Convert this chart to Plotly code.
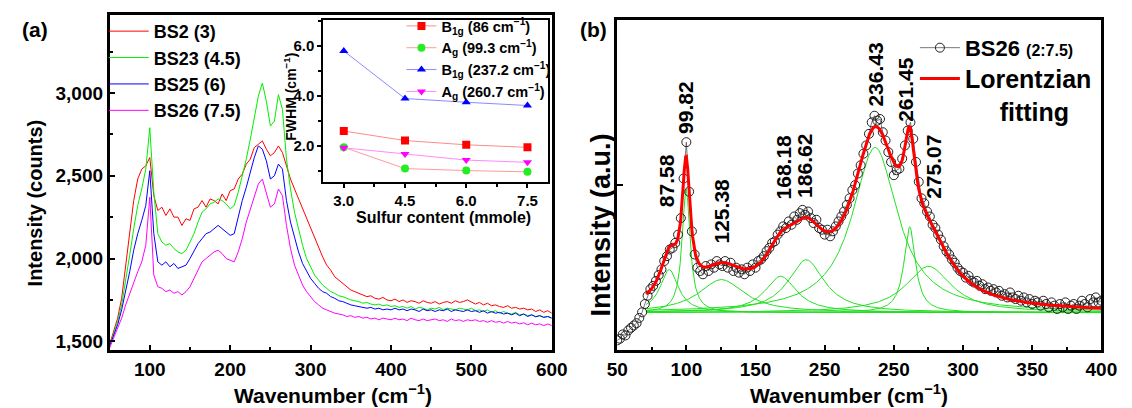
import numpy as np
import plotly.graph_objects as go

W, H = 1132, 408

# ---------------- panel (a): Raman spectra ----------------
wn_a = list(range(50, 605, 5))
bs2 = [1480, 1560, 1640, 1760, 1950, 2150, 2350, 2480, 2540, 2560,
       2610, 2380, 2290, 2310, 2260, 2300, 2250, 2250, 2200, 2240,
       2230, 2300, 2310, 2350, 2310, 2360, 2350, 2330, 2390, 2350,
       2410, 2420, 2480, 2510, 2570, 2600, 2670, 2690, 2710, 2660,
       2620, 2640, 2680, 2640, 2560, 2480, 2420, 2360, 2300, 2240,
       2190, 2120, 2060, 2010, 1960, 1930, 1890, 1870, 1850, 1830,
       1810, 1800, 1790, 1780, 1770, 1775, 1760, 1755, 1765, 1750,
       1745, 1755, 1740, 1750, 1735, 1745, 1740, 1730, 1745, 1735,
       1730, 1740, 1725, 1735, 1740, 1730, 1745, 1735, 1740, 1750,
       1735, 1725, 1735, 1720, 1730, 1715, 1720, 1710, 1705, 1715,
       1700, 1705, 1695, 1700, 1690, 1695, 1680, 1690, 1675, 1685, 1670]
bs23 = [1470, 1540, 1620, 1720, 1860, 2020, 2180, 2320, 2420, 2540,
        2790, 2400, 2150, 2100, 2080, 2090, 2060, 2040, 2030, 2050,
        2100, 2150, 2220, 2280, 2300, 2330, 2340, 2360, 2350, 2330,
        2300, 2320, 2400, 2500, 2600, 2720, 2850, 2980, 3060, 2950,
        2800, 2830, 2990, 2900, 2600, 2420, 2280, 2170, 2080, 2000,
        1950, 1900, 1870, 1840, 1820, 1800, 1790, 1775, 1770, 1760,
        1750, 1745, 1740, 1730, 1735, 1725, 1720, 1725, 1715, 1720,
        1710, 1715, 1705, 1710, 1700, 1710, 1695, 1705, 1700, 1690,
        1700, 1695, 1705, 1690, 1700, 1695, 1690, 1700, 1695, 1690,
        1700, 1685, 1690, 1680, 1690, 1675, 1685, 1670, 1680, 1670,
        1665, 1675, 1660, 1665, 1655, 1660, 1650, 1655, 1645, 1650, 1640]
bs25 = [1470, 1540, 1600, 1690, 1800, 1920, 2050, 2150, 2230, 2320,
        2530, 2150, 1980, 1960, 1980, 1950, 1970, 1940, 1950, 1960,
        2000, 2050, 2090, 2120, 2150, 2160, 2180, 2200, 2180, 2160,
        2140, 2150, 2250, 2350, 2430, 2520, 2610, 2680, 2660, 2590,
        2480, 2500, 2570, 2540, 2350, 2220, 2130, 2040, 1970, 1920,
        1880, 1850, 1820, 1800, 1790, 1770, 1760, 1745, 1740, 1730,
        1720, 1715, 1710, 1705, 1700, 1705, 1695, 1700, 1690, 1695,
        1690, 1700, 1690, 1695, 1685, 1695, 1690, 1680, 1695, 1685,
        1690, 1680, 1690, 1685, 1695, 1680, 1690, 1685, 1680, 1690,
        1680, 1685, 1675, 1685, 1670, 1680, 1670, 1675, 1665, 1670,
        1660, 1670, 1655, 1665, 1650, 1660, 1648, 1655, 1645, 1650, 1640]
bs26 = [1460, 1520, 1570, 1640, 1720, 1790, 1860, 1920, 1980, 2080,
        2370, 1900, 1830, 1820, 1800, 1810, 1790, 1800, 1780, 1800,
        1830, 1880, 1930, 1980, 2000, 2020, 2040, 2050, 2030, 2000,
        1990, 1980, 2040, 2120, 2220, 2300, 2380, 2450, 2480, 2400,
        2310, 2330, 2420, 2380, 2200, 2060, 1960, 1900, 1840, 1800,
        1770, 1740, 1720, 1700, 1690, 1680, 1670, 1665, 1660, 1650,
        1655, 1645, 1650, 1640, 1645, 1635, 1640, 1630, 1640, 1635,
        1630, 1640, 1630, 1635, 1625, 1640, 1630, 1625, 1635, 1625,
        1630, 1635, 1625, 1630, 1620, 1635, 1625, 1630, 1620, 1630,
        1625, 1630, 1620, 1625, 1615, 1625, 1615, 1620, 1610, 1620,
        1610, 1615, 1605, 1612, 1600, 1610, 1600, 1605, 1595, 1605, 1595]
spectra_names = ["BS2 (3)", "BS23 (4.5)", "BS25 (6)", "BS26 (7.5)"]

# ---------------- inset: FWHM vs sulfur content ----------------
sulfur = [3.0, 4.5, 6.0, 7.5]
fwhm_b1g_86 = [2.60, 2.22, 2.05, 1.95]
fwhm_ag_99 = [1.95, 1.10, 1.02, 0.97]
fwhm_b1g_237 = [5.80, 3.90, 3.75, 3.62]
fwhm_ag_261 = [1.93, 1.68, 1.44, 1.35]
fwhm_names = ["B<sub>1g</sub> (86 cm<sup>−1</sup>)", "A<sub>g</sub> (99.3 cm<sup>−1</sup>)",
              "B<sub>1g</sub> (237.2 cm<sup>−1</sup>)", "A<sub>g</sub> (260.7 cm<sup>−1</sup>)"]

# ---------------- panel (b): BS26 with Lorentzian fit ----------------
wn_b = list(range(50, 402, 2))
bs26_b = [3.0, 3.5, 4.8, 4.5, 6.0, 6.8, 7.5, 8.2, 9.8, 11.5,
          14.0, 16.5, 18.5, 19.5, 21.0, 22.8, 24.5, 27.0, 28.5, 30.5,
          31.0, 32.5, 35.0, 40.0, 52.0, 63.0, 48.0, 36.0, 29.0, 25.0,
          24.0, 23.0, 25.5, 24.0, 26.0, 25.0, 27.0, 26.0, 25.5, 27.0,
          25.0, 26.5, 24.0, 25.0, 23.5, 24.5, 23.0, 25.0, 24.0, 26.0,
          25.0, 27.0, 27.5, 28.5, 30.0, 31.0, 32.5, 33.0, 35.0, 36.0,
          37.5, 37.0, 39.0, 38.0, 40.5, 39.5, 41.5, 42.5, 41.0, 42.0,
          40.0, 38.5, 39.5, 37.0, 36.5, 35.0, 36.5, 34.5, 36.0, 37.5,
          39.0, 40.5, 42.0, 44.0, 46.0, 48.5, 50.0, 53.5, 56.0, 59.5,
          62.0, 65.5, 69.0, 71.0, 69.5, 70.0, 66.0, 63.5, 60.0, 57.0,
          53.0, 54.5, 55.0, 58.0, 62.0, 66.5, 69.0, 64.0, 57.0, 51.0,
          46.0, 44.5, 42.0, 40.5, 38.0, 37.0, 35.0, 33.5, 31.5, 30.0,
          29.0, 27.5, 26.5, 25.0, 24.0, 23.5, 22.0, 22.5, 21.0, 20.5,
          21.0, 19.5, 20.0, 18.5, 19.0, 18.0, 18.5, 17.5, 18.0, 16.5,
          17.0, 16.0, 17.5, 16.0, 15.5, 16.5, 15.0, 16.0, 14.5, 15.5,
          14.0, 15.0, 14.5, 13.5, 15.0, 14.0, 13.0, 14.5, 13.5, 12.5,
          14.0, 13.0, 14.5, 12.5, 13.5, 14.0, 12.5, 13.5, 15.0, 14.0,
          13.0, 15.5, 14.5, 16.0, 14.5, 15.0]
peak_centers = [87.58, 99.82, 125.38, 168.18, 186.62, 236.43, 261.45, 275.07]
peak_heights = [13.0, 37.5, 10.0, 11.0, 16.0, 50.0, 26.0, 14.0]
peak_hwhm = [8.0, 3.5, 20.0, 14.0, 16.0, 20.0, 5.0, 20.0]
baseline = 11.4
fit_range = [71, 400]
b_tick_labels = ["50", "100", "150", "250", "250", "300", "350", "400"]

# ---------------- helpers ----------------
FONT = "Liberation Sans, Arial, sans-serif"
def px(x): return x / W
def py(y): return 1 - y / H
def bold(size, color="black"):
    return dict(family=FONT, size=size, color=color, weight="bold")

fig = go.Figure()

spec_colors = ["#ff0000", "#00ee00", "#0000ff", "#ff00ff"]
for name, ys, col in zip(spectra_names, [bs2, bs23, bs25, bs26], spec_colors):
    fig.add_trace(go.Scatter(x=wn_a, y=ys, mode="lines", name=name,
                             line=dict(color=col, width=1), xaxis="x", yaxis="y",
                             legend="legend"))

ins_marker = [("square", "#ff0000", "#ff8a8a"), ("circle", "#22ee22", "#ff9a9a"),
              ("triangle-up", "#0000ff", "#8a8aff"), ("triangle-down", "#ff00ff", "#ff8aff")]
for name, ys, (sym, mc, lc) in zip(fwhm_names, [fwhm_b1g_86, fwhm_ag_99, fwhm_b1g_237, fwhm_ag_261], ins_marker):
    fig.add_trace(go.Scatter(x=sulfur, y=ys, mode="lines+markers", name=name,
                             line=dict(color=lc, width=1),
                             marker=dict(symbol=sym, color=mc, size=8),
                             xaxis="x2", yaxis="y2", legend="legend2"))

xf = np.arange(fit_range[0], fit_range[1] + 0.25, 0.5)
peaks = [h / (1 + ((xf - c) / w) ** 2) for c, h, w in zip(peak_centers, peak_heights, peak_hwhm)]
for p in peaks:
    fig.add_trace(go.Scatter(x=xf, y=baseline + p, mode="lines", showlegend=False,
                             line=dict(color="#22e022", width=1), xaxis="x3", yaxis="y3"))
fig.add_trace(go.Scatter(x=wn_b, y=bs26_b, mode="lines+markers",
                         name="BS26 <span style='font-size:16px'>(2:7.5)</span>",
                         line=dict(color="#555555", width=0.8),
                         marker=dict(symbol="circle-open", size=9, color="#222222", line=dict(width=1)),
                         xaxis="x3", yaxis="y3", legend="legend3"))
fig.add_trace(go.Scatter(x=xf, y=baseline + np.sum(peaks, axis=0), mode="lines",
                         name="Lorentzian<br>\u00a0\u00a0\u00a0\u00a0\u00a0fitting",
                         line=dict(color="#ff0000", width=3), xaxis="x3", yaxis="y3", legend="legend4"))

ax_common = dict(showline=True, linecolor="black", linewidth=2.5, mirror=True,
                 ticks="inside", tickcolor="black", tickwidth=2, ticklen=6,
                 showgrid=False, zeroline=False, tickfont=bold(19))

fig.update_layout(
    width=W, height=H, margin=dict(l=0, r=0, t=0, b=0),
    paper_bgcolor="white", plot_bgcolor="white",
    xaxis=dict(domain=[px(101), px(554)], range=[50, 600], anchor="y",
               tickvals=[100, 200, 300, 400, 500, 600],
               minor=dict(tickvals=[150, 250, 350, 450, 550], ticks="inside", ticklen=4,
                          tickwidth=2, tickcolor="black"), **ax_common),
    yaxis=dict(domain=[py(352), py(15)], range=[1446, 3471], anchor="x",
               tickvals=[1500, 2000, 2500, 3000], tickformat=",d",
               minor=dict(tickvals=[1750, 2250, 2750, 3250], ticks="inside", ticklen=4,
                          tickwidth=2, tickcolor="black"), **ax_common),
    xaxis2=dict(domain=[px(320), px(550)], range=[2.5, 8.0], anchor="y2",
                showline=True, linecolor="black", linewidth=2, mirror=True,
                ticks="outside", ticklen=4, tickwidth=1.5, tickcolor="black",
                tickvals=sulfur, tickformat=".1f", tickfont=bold(15),
                minor=dict(tickvals=[3.75, 5.25, 6.75], ticks="outside", ticklen=3,
                           tickwidth=1.5, tickcolor="black"),
                showgrid=False, zeroline=False),
    yaxis2=dict(domain=[py(183), py(20)], range=[0.56, 7.04], anchor="x2",
                showline=True, linecolor="black", linewidth=2, mirror=True,
                ticks="outside", ticklen=4, tickwidth=1.5, tickcolor="black",
                tickvals=[2.0, 4.0, 6.0], tickformat=".1f", tickfont=bold(15),
                minor=dict(tickvals=[1.0, 3.0, 5.0, 7.0], ticks="outside", ticklen=3,
                           tickwidth=1.5, tickcolor="black"),
                showgrid=False, zeroline=False),
    xaxis3=dict(domain=[px(621), px(1117)], range=[50, 400], anchor="y3",
                tickvals=[50, 100, 150, 200, 250, 300, 350, 400], ticktext=b_tick_labels,
                minor=dict(tickvals=[75, 125, 175, 225, 275, 325, 375], ticks="inside", ticklen=4,
                           tickwidth=2, tickcolor="black"), **ax_common),
    yaxis3=dict(domain=[py(352), py(20)], range=[0, 100], anchor="x3",
                tickvals=[50], showticklabels=False, **ax_common),
    legend=dict(x=px(95), y=py(13), xanchor="left", yanchor="top", bgcolor="rgba(0,0,0,0)",
                font=bold(18), itemwidth=40),
    legend2=dict(x=px(400), y=py(10), xanchor="left", yanchor="top", bgcolor="rgba(0,0,0,0)",
                 font=bold(14.5), itemwidth=30),
    legend3=dict(x=px(926), y=py(27), xanchor="left", yanchor="top", bgcolor="rgba(0,0,0,0)",
                 font=bold(22), itemwidth=40),
    legend4=dict(x=px(926), y=py(56), xanchor="left", yanchor="top", bgcolor="rgba(0,0,0,0)",
                 font=bold(25), itemwidth=40, valign="top"),
    showlegend=True,
)

ann = []
ann.append(dict(text="(a)", x=px(25), y=py(30), font=bold(21)))
ann.append(dict(text="(b)", x=px(597), y=py(30), font=bold(21)))
ann.append(dict(text="Intensity (counts)", x=px(25), y=py(204), textangle=-90, font=bold(20)))
ann.append(dict(text="Wavenumber (cm<sup>−1</sup>)", x=px(330), y=py(396), font=bold(21)))
ann.append(dict(text="Wavenumber (cm<sup>−1</sup>)", x=px(858), y=py(396), font=bold(21)))
ann.append(dict(text="Intensity (a.u.)", x=px(604), y=py(226), textangle=-90, font=bold(27)))
ann.append(dict(text="Sulfur content (mmole)", x=px(443), y=py(219), font=bold(16)))
ann.append(dict(text="FWHM (cm<sup>−1</sup>)", x=px(285), y=py(97), textangle=-90, font=bold(14)))
for a in ann:
    a.update(xref="paper", yref="paper", showarrow=False, xanchor="center", yanchor="middle")

label_x = [85.3, 99.4, 125.5, 170.0, 185.5, 237.0, 258.2, 278.7]
label_y = [51.2, 73.5, 42.2, 55.4, 55.7, 83.4, 78.9, 55.4]
for c, lx, ly in zip(peak_centers, label_x, label_y):
    ann.append(dict(text=f"{c:.2f}", x=lx, y=ly, xref="x3", yref="y3", showarrow=False,
                    textangle=-90, font=bold(21)))
fig.update_layout(annotations=ann)

fig.write_html("out.html")
